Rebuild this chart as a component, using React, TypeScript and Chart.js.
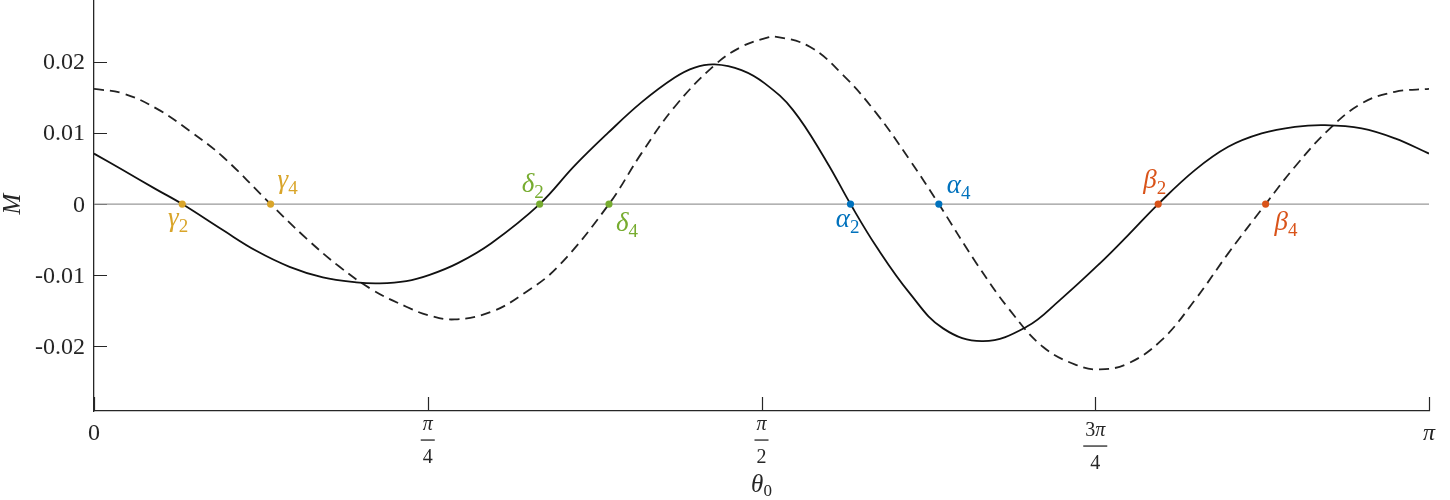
import React, { useEffect, useRef } from 'react';
import { Chart, registerables } from 'chart.js';

Chart.register(...registerables);

const PI = Math.PI;

// Solid curve (subscript 2)
const solidTheta = [0, 0.0678, 0.1464, 0.2076, 0.3032, 0.3818, 0.4602, 0.5386, 0.6172, 0.6721, 0.735, 0.7898, 0.8564, 0.935, 1.0488, 1.1311, 1.2095, 1.2882, 1.3666, 1.4136, 1.4607, 1.5236, 1.5784, 1.6451, 1.7237, 1.7802, 1.8414, 1.9198, 1.9981, 2.0923, 2.1945, 2.2729, 2.3671, 2.4337, 2.5043, 2.5907, 2.6691, 2.7477, 2.8261, 2.8967, 2.9831, 3.0615, 3.1416];
const solidM = [0.0071, 0.00478, 0.00207, 0, -0.00366, -0.00657, -0.00882, -0.01031, -0.01101, -0.01115, -0.01083, -0.00995, -0.0083, -0.0055, 0, 0.0054, 0.01, 0.0143, 0.0178, 0.0192, 0.01965, 0.01885, 0.01698, 0.01322, 0.006, 0, -0.00601, -0.01256, -0.01748, -0.01927, -0.01726, -0.0135, -0.00834, -0.00436, 0, 0.00478, 0.00806, 0.00994, 0.01087, 0.01111, 0.01065, 0.00924, 0.0071];

// Dashed curve (subscript 4)
const dashedTheta = [0, 0.0678, 0.1464, 0.2248, 0.3032, 0.4155, 0.4995, 0.5779, 0.6563, 0.735, 0.7858, 0.8487, 0.935, 1.0134, 1.0918, 1.2119, 1.2882, 1.3666, 1.4607, 1.5236, 1.5784, 1.606, 1.6844, 1.7628, 1.8414, 1.9198, 1.9881, 2.0768, 2.1552, 2.2336, 2.3122, 2.3671, 2.4337, 2.5123, 2.5907, 2.6691, 2.7571, 2.8261, 2.9045, 2.9831, 3.0615, 3.1416];
const dashedM = [0.0162, 0.01557, 0.01346, 0.01031, 0.00665, 0, -0.00482, -0.00882, -0.0121, -0.01444, -0.01561, -0.01622, -0.01515, -0.0125, -0.0088, 0, 0.00713, 0.01369, 0.01955, 0.02212, 0.02331, 0.02353, 0.02212, 0.01814, 0.01276, 0.00619, 0, -0.00834, -0.01491, -0.0201, -0.02264, -0.02325, -0.02241, -0.01913, -0.0135, -0.00693, 0, 0.00525, 0.01041, 0.01416, 0.01579, 0.0162];

// Zero crossings
const crossNames = ['γ', 'δ', 'α', 'β'];
const crossTheta2 = [0.2076, 1.0488, 1.7802, 2.5043];
const crossTheta4 = [0.4155, 1.2119, 1.9881, 2.7571];
const crossColors = ['#D9A52A', '#77AC30', '#0072BD', '#D95319'];

// Axes
const yMin = -0.0291;
const yMax = 0.0287;
const yTickValues = [-0.02, -0.01, 0, 0.01, 0.02];
const yTickLabels = ['-0.02', '-0.01', '0', '0.01', '0.02'];
const xTickValues = [0, PI / 4, PI / 2, (3 * PI) / 4, PI];
const xTickNum = ['0', 'π', 'π', '3π', 'π'];
const xTickDen = ['', '4', '2', '4', ''];

// label layout (style, not data): [dx, baseline dy]
const LABEL_POS_2 = [[6, 22], [4, -12], [9, 23], [8, -16]];
const LABEL_POS_4 = [[7, -16], [7, 27], [8, -11], [9, 26]];

const FONT = '"Liberation Serif", "Times New Roman", serif';
const AXIS_COLOR = '#262626';

type Run = { text: string; size: number; italic?: boolean; dy?: number };

function drawRuns(ctx: CanvasRenderingContext2D, runs: Run[], x: number, baseline: number, align: 'left' | 'right' | 'center') {
  const widths = runs.map((r) => {
    ctx.font = `${r.italic ? 'italic ' : ''}${r.size}px ${FONT}`;
    return ctx.measureText(r.text).width;
  });
  const total = widths.reduce((a, b) => a + b, 0);
  let cx = align === 'center' ? x - total / 2 : align === 'right' ? x - total : x;
  ctx.textAlign = 'left';
  ctx.textBaseline = 'alphabetic';
  runs.forEach((r, i) => {
    ctx.font = `${r.italic ? 'italic ' : ''}${r.size}px ${FONT}`;
    ctx.fillText(r.text, cx, baseline + (r.dy || 0));
    cx += widths[i];
  });
  return total;
}

function piRuns(s: string, size: number): Run[] {
  const runs: Run[] = [];
  for (const ch of s) {
    runs.push({ text: ch, size, italic: ch === 'π' });
  }
  return runs;
}

const decorPlugin = {
  id: 'decor',
  beforeDatasetsDraw(chart: any) {
    const { ctx, chartArea, scales } = chart;
    const xs = scales.x;
    const ys = scales.y;
    ctx.save();
    ctx.strokeStyle = AXIS_COLOR;
    ctx.lineWidth = 1.2;
    ctx.beginPath();
    yTickValues.forEach((v) => {
      const y = Math.round(ys.getPixelForValue(v)) + 0.5;
      ctx.moveTo(chartArea.left, y);
      ctx.lineTo(chartArea.left + 13, y);
    });
    xTickValues.forEach((v) => {
      const x = Math.round(xs.getPixelForValue(v)) + 0.5;
      ctx.moveTo(x, chartArea.bottom);
      ctx.lineTo(x, chartArea.bottom - 14);
    });
    ctx.stroke();
    ctx.restore();
  },
  afterDraw(chart: any) {
    const { ctx, chartArea, scales } = chart;
    const xs = scales.x;
    const ys = scales.y;
    ctx.save();
    ctx.fillStyle = AXIS_COLOR;
    // y tick labels
    yTickValues.forEach((v, i) => {
      const y = ys.getPixelForValue(v);
      drawRuns(ctx, [{ text: yTickLabels[i], size: 24 }], chartArea.left - 9, y + 7.5, 'right');
    });
    // x tick labels
    xTickValues.forEach((v, i) => {
      const x = xs.getPixelForValue(v);
      const num = xTickNum[i];
      const den = xTickDen[i];
      if (!den) {
        drawRuns(ctx, piRuns(num, 24), x, 440, 'center');
      } else {
        const shift = num.length > 1 ? 6 : 0;
        const nw = drawRuns(ctx, piRuns(num, 20), x, 430 + shift, 'center');
        const dw = drawRuns(ctx, piRuns(den, 20), x, 463 + shift, 'center');
        const bw = Math.max(nw, dw) + 4;
        ctx.fillRect(x - bw / 2, 439.4 + shift, bw, 1.3);
      }
    });
    // x axis title
    drawRuns(ctx, [
      { text: 'θ', size: 25, italic: true },
      { text: '0', size: 17, dy: 4 },
    ], (chartArea.left + chartArea.right) / 2, 492, 'center');
    // y axis title
    ctx.save();
    ctx.translate(20, ys.getPixelForValue(0));
    ctx.rotate(-Math.PI / 2);
    drawRuns(ctx, [{ text: 'M', size: 25, italic: true }], 0, 0, 'center');
    ctx.restore();
    // crossing labels
    crossNames.forEach((name, i) => {
      ctx.fillStyle = crossColors[i];
      const p2x = xs.getPixelForValue(crossTheta2[i]);
      const p4x = xs.getPixelForValue(crossTheta4[i]);
      const py = ys.getPixelForValue(0);
      const [d2x, d2y] = LABEL_POS_2[i];
      const [d4x, d4y] = LABEL_POS_4[i];
      drawRuns(ctx, [
        { text: name, size: 27, italic: true },
        { text: '2', size: 19, dy: 5.5 },
      ], p2x + d2x, py + d2y, 'right');
      drawRuns(ctx, [
        { text: name, size: 27, italic: true },
        { text: '4', size: 19, dy: 5.5 },
      ], p4x + d4x, py + d4y, 'left');
    });
    ctx.restore();
  },
};

export default function App() {
  const canvasRef = useRef<HTMLCanvasElement | null>(null);

  useEffect(() => {
    const canvas = canvasRef.current;
    if (!canvas) return;
    const solidData = solidTheta.map((t, i) => ({ x: t, y: solidM[i] }));
    const dashedData = dashedTheta.map((t, i) => ({ x: t, y: dashedM[i] }));
    const markerData = [
      ...crossTheta2.map((t) => ({ x: t, y: 0 })),
      ...crossTheta4.map((t) => ({ x: t, y: 0 })),
    ];
    const markerColors = [...crossColors, ...crossColors];

    const chart = new Chart(canvas, {
      type: 'scatter',
      data: {
        datasets: [
          {
            label: 'crossings',
            data: markerData,
            showLine: false,
            pointRadius: 3.6,
            pointBackgroundColor: markerColors,
            pointBorderColor: markerColors,
            pointBorderWidth: 0,
            order: 0,
          } as any,
          {
            label: 'M2',
            data: solidData,
            showLine: true,
            borderColor: '#111111',
            borderWidth: 1.8,
            pointRadius: 0,
            tension: 0.4,
            order: 1,
          } as any,
          {
            label: 'M4',
            data: dashedData,
            showLine: true,
            borderColor: '#222222',
            borderWidth: 1.8,
            borderDash: [10, 6],
            pointRadius: 0,
            tension: 0.4,
            order: 2,
          } as any,
          {
            label: 'zero',
            data: [{ x: 0, y: 0 }, { x: PI, y: 0 }],
            showLine: true,
            borderColor: '#999999',
            borderWidth: 1.3,
            pointRadius: 0,
            order: 3,
          } as any,
        ],
      },
      options: {
        responsive: false,
        animation: false,
        devicePixelRatio: 1,
        layout: { autoPadding: false, padding: { left: 0, right: 21, top: 0, bottom: 0 } },
        plugins: {
          legend: { display: false },
          tooltip: { enabled: false },
          title: { display: false },
        },
        scales: {
          x: {
            type: 'linear',
            min: 0,
            max: PI,
            grid: { display: false, drawTicks: false },
            border: { display: true, color: AXIS_COLOR, width: 1.3 },
            ticks: { display: false },
            afterFit: (s: any) => {
              s.height = 89;
            },
          },
          y: {
            type: 'linear',
            min: yMin,
            max: yMax,
            grid: { display: false, drawTicks: false },
            border: { display: true, color: AXIS_COLOR, width: 1.3 },
            ticks: { display: false },
            afterFit: (s: any) => {
              s.width = 94;
            },
          },
        },
      } as any,
      plugins: [decorPlugin],
    });
    return () => chart.destroy();
  }, []);

  return (
    <div style={{ position: 'fixed', left: 0, top: 0, width: 1450, height: 500, background: '#ffffff' }}>
      <canvas ref={canvasRef} width={1450} height={500} style={{ display: 'block' }} />
    </div>
  );
}
